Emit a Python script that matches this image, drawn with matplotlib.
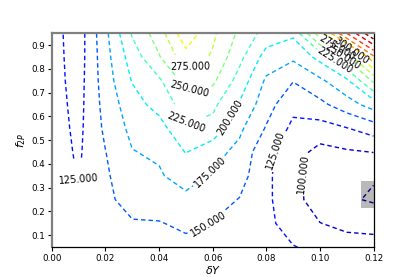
import numpy as np
import matplotlib
matplotlib.use('Agg')
import matplotlib.pyplot as plt
from matplotlib.patches import Rectangle

# grid of the scan: columns in dY, rows in f2P
dY = [0.00, 0.01, 0.02, 0.03, 0.04, 0.05, 0.06, 0.07, 0.08, 0.09, 0.10, 0.11, 0.12]
f2P = [0.05, 0.15, 0.25, 0.35, 0.45, 0.55, 0.65, 0.75, 0.85, 0.95]

# values, one list per dY column (bottom -> top)
z_cols = [
    [133, 134, 135, 136, 137, 137, 136, 135, 135, 134.4],
    [133, 132, 130, 124, 121.6, 119, 117, 115, 113, 112],
    [135, 138, 142, 146, 149.5, 155, 159, 163, 166, 169],
    [140, 147, 164, 169, 174, 181.7, 190, 201.5, 212, 228],
    [142, 148, 168, 172, 179, 190, 209, 221, 248, 263],
    [140, 157.5, 168, 187, 201, 222, 236, 259, 290, 318],
    [142, 149, 160, 172, 184, 216, 231, 255, 272, 280],
    [140, 145, 149, 160, 168, 180, 198, 215, 232, 245],
    [134, 131, 130, 130, 131, 148, 160, 171, 190, 215],
    [126, 114, 108, 108, 111, 119, 132, 151, 180, 205],
    [120, 100.5, 88, 86, 92, 115, 143.6, 170, 208, 290],
    [110, 94, 78.7, 82, 97, 124, 164, 195, 255, 375],
    [108, 93, 72, 77, 100.5, 137, 186, 255, 345, 450],
]
levels = list(range(75, 450, 25))

# where the labels sit in the reference (level -> points near the line)
label_spots = {
    100: [(0.0946, 0.354)],
    125: [(0.0100, 0.30), (0.0837, 0.455)],
    150: [(0.059, 0.135)],
    175: [(0.0594, 0.362)],
    200: [(0.0658, 0.600)],
    225: [(0.050, 0.573), (0.1036, 0.80)],
    250: [(0.0516, 0.703), (0.1077, 0.83)],
    275: [(0.052, 0.80), (0.106, 0.884)],
    300: [(0.1107, 0.855)],
}

fig, ax = plt.subplots(figsize=(4.15, 2.77), dpi=100)

X, Y = np.meshgrid(dY, f2P)
Z = np.array(z_cols).T
cs = ax.contour(X, Y, Z, levels=levels, cmap='jet', linestyles=[(0, (3.2, 2.2))],
                linewidths=1.0, zorder=2)

# set up label style for all levels, then snap each label to its own level
ax.clabel(cs, manual=[], fmt='%1.3f', colors='k', fontsize=7)
for lev, spots in label_spots.items():
    cs.labelIndiceList = [levels.index(lev)]
    for x, y in spots:
        cs.add_label_near(x, y, inline=True, inline_spacing=5)

# grey box marking the minimum region
ax.add_patch(Rectangle((0.1152, 0.215), 0.01, 0.114, facecolor='gray', alpha=0.55, zorder=1))

ax.set_xlim(0, 0.12)
ax.set_ylim(0.05, 0.95)
ax.set_xticks(np.arange(0, 0.121, 0.02))
ax.set_yticks(np.arange(0.1, 0.91, 0.1))
ax.tick_params(labelsize=6.3, length=3, width=0.8, pad=2)
ax.set_xlabel(r'$\delta Y$', fontsize=8, labelpad=1)
ax.set_ylabel(r'$f_{2P}$', fontsize=8, labelpad=2)

for side in ['left', 'top']:
    ax.spines[side].set_color('gray')
    ax.spines[side].set_linewidth(1.6)
for side in ['right', 'bottom']:
    ax.spines[side].set_linewidth(0.9)

fig.subplots_adjust(left=0.125, right=0.9, top=0.88, bottom=0.108)
fig.savefig('out.png', dpi=100)
